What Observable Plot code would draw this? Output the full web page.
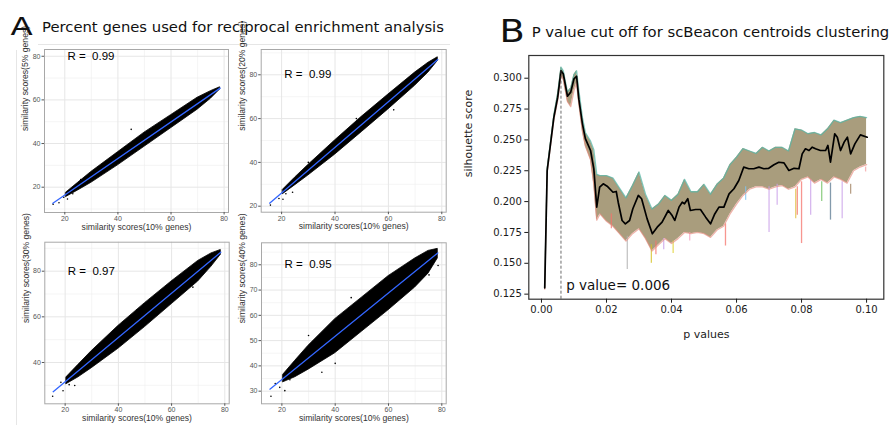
<!DOCTYPE html>
<html><head><meta charset="utf-8">
<script src="https://cdn.jsdelivr.net/npm/d3@7"></script>
<script src="https://cdn.jsdelivr.net/npm/@observablehq/plot@0.6"></script>
<style>
body{margin:0;background:#fff;width:893px;height:425px;overflow:hidden;position:relative;font-family:"DejaVu Sans",sans-serif}
.pos{position:absolute;line-height:0}
</style></head><body>
<script>
// ---------- Panel A data ----------
const xTicksA = [20, 40, 60, 80];
const xMinorA = [30, 50, 70];
const xTitleA = "similarity scores(10% genes)";
const yTitlesA = ["similarity scores(5% genes)", "similarity scores(20% genes)", "similarity scores(30% genes)", "similarity scores(40% genes)"];
const rLabels = ["R =  0.99", "R =  0.99", "R =  0.97", "R =  0.95"];
const yTicks5 = [20, 40, 60, 80], yMinor5 = [10, 30, 50, 70];
const yTicks20 = [20, 40, 60, 80], yMinor20 = [30, 50, 70, 90];
const yTicks30 = [40, 60, 80], yMinor30 = [30, 50, 70, 90];
const yTicks40 = [30, 40, 50, 60, 70, 80], yMinor40 = [35, 45, 55, 65, 75, 85];

// dense point cloud edges
const bandX = [20.5, 25, 30, 40, 50, 60, 70, 75, 78.5];
const lo5  = [15.5, 18.5, 22, 30, 38.5, 47, 55.5, 60.5, 64.8];
const hi5  = [17.5, 22, 27, 36, 45, 53, 61, 64, 65.8];
const lo20 = [25.5, 29.5, 34, 43.5, 53.8, 64.2, 75, 81, 86.3];
const hi20 = [27.5, 33, 38.8, 50, 60.8, 71, 81, 85.5, 88];
const lo30 = [30.5, 33.5, 37.5, 46, 55.5, 65.5, 75.5, 82, 87.2];
const hi30 = [33.5, 39, 45, 56, 66, 75.5, 84.5, 87.8, 89.3];
const lo40 = [33.5, 35.5, 38.5, 45, 53.5, 62, 71, 76.5, 82.5];
const hi40 = [36.5, 42, 48, 58.5, 67, 75.5, 82.5, 85.5, 86.3];

// sparse outlier points
const out5X  = [15.6, 17.8, 19.6, 21, 23, 26, 45, 66];
const out5Y  = [12.2, 12.9, 15.4, 14.6, 17, 23.5, 46.5, 55];
const out20X = [15.8, 19, 20.5, 21.6, 24.1, 30, 48, 62];
const out20Y = [20.5, 23.5, 23.2, 25.7, 26.4, 40, 60, 64];
const out30X = [15.3, 18.4, 19.2, 21.5, 23.6, 33, 47, 68];
const out30Y = [25.2, 31.3, 27.6, 30.3, 29.9, 48, 63, 73];
const out40X = [15.9, 17.5, 19.2, 21.1, 23, 35, 40, 75.2, 78.6, 30, 46];
const out40Y = [28.0, 33, 31.5, 30.2, 34.5, 37.5, 41, 76, 79.7, 52, 67];

// linear fit end points
const fitX = [15.5, 78.5];
const fit5 = [12.6, 65.4];
const fit20 = [21.4, 87.0];
const fit30 = [27.2, 88.3];
const fit40 = [30.8, 84.7];

// ---------- Panel B data ----------
const xTicksB = [0, 0.02, 0.04, 0.06, 0.08, 0.10];
const yTicksB = [0.125, 0.150, 0.175, 0.200, 0.225, 0.250, 0.275, 0.300];
const meanP = [0.001,0.00175,0.0038,0.005,0.006,0.0067,0.008,0.009,0.010,0.0108,0.0115,0.0126,0.0135,0.0151,0.0161,0.017,0.0179,0.019,0.0202,0.022,0.023,0.0236,0.0248,0.0258,0.0271,0.0281,0.0298,0.0308,0.0325,0.0341,0.0356,0.0371,0.039,0.0402,0.041,0.0423,0.0433,0.044,0.045,0.0458,0.0474,0.0489,0.0505,0.052,0.0533,0.0546,0.0561,0.0577,0.0592,0.0607,0.0622,0.0638,0.0653,0.0669,0.0684,0.0699,0.0715,0.073,0.0746,0.0761,0.0777,0.0792,0.0802,0.0812,0.0823,0.0833,0.0843,0.0858,0.0874,0.0881,0.0889,0.0902,0.091,0.092,0.0931,0.0941,0.0951,0.0964,0.0981,0.1002];
const meanV = [0.130,0.225,0.268,0.2846,0.306,0.3036,0.2854,0.2887,0.2995,0.3016,0.283,0.263,0.251,0.2414,0.2266,0.1955,0.2117,0.2144,0.2125,0.2076,0.2082,0.1995,0.1847,0.182,0.1847,0.1942,0.205,0.2023,0.186,0.1739,0.1793,0.1833,0.1928,0.1887,0.1847,0.1955,0.1995,0.1982,0.2023,0.1928,0.1936,0.1936,0.1874,0.182,0.19,0.1955,0.1955,0.2063,0.2104,0.2171,0.2279,0.2266,0.2266,0.2279,0.2266,0.227,0.2298,0.2319,0.2314,0.2252,0.227,0.2266,0.2387,0.2428,0.2414,0.2441,0.2428,0.2414,0.2414,0.2455,0.2319,0.2549,0.2522,0.2414,0.2482,0.2522,0.2387,0.2468,0.2541,0.2522];
const bandP  = [0.001,0.00175,0.0038,0.005,0.006,0.0067,0.008,0.009,0.010,0.0108,0.0115,0.0126,0.0135,0.0151,0.0161,0.017,0.018,0.020,0.022,0.024,0.026,0.028,0.030,0.032,0.034,0.036,0.038,0.040,0.042,0.044,0.046,0.048,0.050,0.052,0.054,0.056,0.058,0.060,0.062,0.064,0.066,0.068,0.070,0.072,0.074,0.076,0.078,0.080,0.082,0.084,0.086,0.088,0.090,0.092,0.094,0.096,0.098,0.100];
const bandLo = [0.129,0.224,0.266,0.282,0.302,0.299,0.281,0.277,0.290,0.296,0.279,0.257,0.245,0.234,0.214,0.185,0.190,0.184,0.180,0.174,0.168,0.174,0.178,0.170,0.160,0.165,0.170,0.166,0.170,0.175,0.174,0.175,0.174,0.171,0.177,0.180,0.190,0.198,0.205,0.210,0.212,0.212,0.210,0.212,0.213,0.210,0.212,0.218,0.220,0.215,0.218,0.215,0.220,0.218,0.215,0.225,0.228,0.230];
const bandHi = [0.131,0.227,0.270,0.288,0.309,0.306,0.289,0.292,0.303,0.306,0.290,0.268,0.256,0.249,0.242,0.222,0.221,0.221,0.219,0.211,0.203,0.213,0.224,0.206,0.194,0.198,0.205,0.201,0.206,0.218,0.208,0.208,0.214,0.206,0.214,0.219,0.230,0.236,0.243,0.241,0.239,0.244,0.241,0.244,0.244,0.241,0.259,0.258,0.255,0.256,0.254,0.259,0.266,0.264,0.266,0.268,0.269,0.268];
const spikeP      = [0.0215,0.0264,0.0338,0.0352,0.0376,0.0405,0.0456,0.0566,0.0628,0.0700,0.0725,0.0782,0.0787,0.0800,0.0828,0.0862,0.0889,0.0925,0.0951,0.0997];
const spikeTop    = [0.190,0.172,0.165,0.168,0.170,0.168,0.175,0.182,0.212,0.212,0.214,0.210,0.212,0.216,0.218,0.216,0.215,0.216,0.214,0.228];
const spikeBottom = [0.178,0.145,0.150,0.157,0.161,0.158,0.168,0.164,0.201,0.175,0.197,0.186,0.189,0.166,0.189,0.200,0.185,0.186,0.206,0.224];
const spikeColor  = ["#f4736b","#b0b0b0","#d4c020","#f4736b","#c9a0e8","#e0d030","#f4a0c0","#f4736b","#7fc4f0","#c9a0e8","#c9a0e8","#e0c040","#f4736b","#f4736b","#c9a0e8","#6fbf60","#5a7890","#c9a0e8","#a08060","#f4a0a0"];
const cutoffP = 0.006, cutoffPeak = 0.307;
const cutoffLabel = "p value= 0.006";

// ---------- layout ----------
const body = document.body;
function place(el, left, top, z) {
  const d = document.createElement("div");
  d.className = "pos"; d.style.left = left + "px"; d.style.top = top + "px";
  if (z) d.style.zIndex = z;
  d.appendChild(el); body.appendChild(d); return d;
}

// faint panel A border
const bt = document.createElement("div");
bt.className = "pos"; bt.style.cssText = "left:38px;top:44px;width:412px;height:0;border-top:1px solid #e6e6e6";
body.appendChild(bt);
const bl = document.createElement("div");
bl.className = "pos"; bl.style.cssText = "left:16px;top:50px;width:0;height:375px;border-left:1px solid #e6e6e6";
body.appendChild(bl);

function scatterPanel(c) {
  const band = bandX.map((x, i) => ({x, lo: c.lo[i], hi: c.hi[i]}));
  const pts = c.ox.map((x, i) => ({x, y: c.oy[i]}));
  const fit = fitX.map((x, i) => ({x, y: c.fit[i]}));
  return Plot.plot({
    width: c.w, height: c.h,
    marginLeft: c.ml, marginRight: c.mr, marginTop: c.mt, marginBottom: c.mb,
    x: {domain: [12.35, 81.65]},
    y: {domain: c.yd},
    style: {fontFamily: "Liberation Sans, Arial, sans-serif", background: "transparent", overflow: "visible"},
    marks: [
      Plot.gridX(xMinorA, {stroke: "#eeeeee", strokeWidth: 0.6, strokeOpacity: 1}),
      Plot.gridY(c.yMinor, {stroke: "#eeeeee", strokeWidth: 0.6, strokeOpacity: 1}),
      Plot.gridX(xTicksA, {stroke: "#e6e6e6", strokeWidth: 1, strokeOpacity: 1}),
      Plot.gridY(c.yTicks, {stroke: "#e6e6e6", strokeWidth: 1, strokeOpacity: 1}),
      Plot.areaY(band, {x: "x", y1: "lo", y2: "hi", fill: "black", stroke: "black", strokeWidth: 0.8, curve: "linear"}),
      Plot.dot(pts, {x: "x", y: "y", r: 0.8, fill: "black", stroke: null}),
      Plot.line(fit, {x: "x", y: "y", stroke: "#3366FF", strokeWidth: 1.3}),
      Plot.text([c.r], {x: 21, y: 80, text: d => d, textAnchor: "start", fontSize: 11.5, fill: "black"}),
      Plot.frame({stroke: "#a8a8a8", strokeWidth: 1}),
      Plot.axisX(xTicksA, {tickSize: 2.5, tickPadding: 1, fontSize: 7, color: "#555", label: null}),
      Plot.axisY(c.yTicks, {tickSize: 2.5, tickPadding: 1.5, fontSize: 7, color: "#555", label: null}),
      Plot.text([xTitleA], {frameAnchor: "bottom", dy: 17, text: d => d, fontSize: 8.6, fill: "#333"}),
      Plot.text([c.yt], {frameAnchor: "left", dx: -19, rotate: -90, text: d => d, fontSize: 8.6, fill: "#333"})
    ]
  });
}

place(scatterPanel({w: 232, h: 200, ml: 44, mr: 4, mt: 9, mb: 28, yd: [8.4, 83.1], yTicks: yTicks5, yMinor: yMinor5,
  lo: lo5, hi: hi5, ox: out5X, oy: out5Y, fit: fit5, r: rLabels[0], yt: yTitlesA[0]}), 0, 40);
place(scatterPanel({w: 234, h: 200, ml: 44.7, mr: 4.3, mt: 9, mb: 28.3, yd: [17.26, 91.55], yTicks: yTicks20, yMinor: yMinor20,
  lo: lo20, hi: hi20, ox: out20X, oy: out20Y, fit: fit20, r: rLabels[1], yt: yTitlesA[1]}), 216, 40);
place(scatterPanel({w: 232, h: 193, ml: 44.3, mr: 3.3, mt: 9.7, mb: 21.7, yd: [21.9, 92.7], yTicks: yTicks30, yMinor: yMinor30,
  lo: lo30, hi: hi30, ox: out30X, oy: out30Y, fit: fit30, r: rLabels[2], yt: yTitlesA[2]}), 0, 232);
place(scatterPanel({w: 234, h: 193, ml: 45, mr: 4.3, mt: 10.3, mb: 21.7, yd: [25.0, 88.7], yTicks: yTicks40, yMinor: yMinor40,
  lo: lo40, hi: hi40, ox: out40X, oy: out40Y, fit: fit40, r: rLabels[3], yt: yTitlesA[3]}), 216, 232);

// ---------- Panel B ----------
const meanData = meanP.map((p, i) => ({p, v: meanV[i]}));
const bandData = bandP.map((p, i) => ({p, lo: bandLo[i], hi: bandHi[i]}));
const spikeData = spikeP.map((p, i) => ({p, top: spikeTop[i], bottom: spikeBottom[i], color: spikeColor[i]}));
const yMinB = 0.1209;
const plotB = Plot.plot({
  width: 443, height: 305,
  marginLeft: 78.3, marginRight: 9.7, marginTop: 10, marginBottom: 51.3,
  x: {domain: [-0.0039, 0.1053]},
  y: {domain: [yMinB, 0.3184]},
  color: {type: "identity"},
  style: {fontFamily: "DejaVu Sans, sans-serif", background: "transparent", overflow: "visible"},
  marks: [
    Plot.areaY(bandData, {x: "p", y1: "lo", y2: "hi", fill: "#9a8c66", fillOpacity: 0.85, curve: "linear"}),
    Plot.ruleX(spikeData, {x: "p", y1: "top", y2: "bottom", stroke: "color", strokeOpacity: 0.75, strokeWidth: 1.3}),
    Plot.line(bandData, {x: "p", y: "hi", stroke: "#58b5a5", strokeOpacity: 0.75, strokeWidth: 1.3}),
    Plot.line(bandData, {x: "p", y: "lo", stroke: "#e58a7d", strokeOpacity: 0.65, strokeWidth: 1.3}),
    Plot.line(meanData, {x: "p", y: "v", stroke: "black", strokeWidth: 1.7}),
    Plot.ruleX([cutoffP], {x: d => d, y1: yMinB, y2: cutoffPeak, stroke: "#444", strokeWidth: 0.8, strokeDasharray: "3,2"}),
    Plot.text([cutoffLabel], {x: 0.0076, y: 0.1285, text: d => d, textAnchor: "start", lineAnchor: "bottom", fontSize: 13.5, fill: "#111"}),
    Plot.frame({stroke: "#333", strokeWidth: 1.2}),
    Plot.axisX(xTicksB, {tickFormat: d => d.toFixed(2), tickSize: 4, tickPadding: 3, fontSize: 10, color: "#1a1a1a", label: null}),
    Plot.axisY(yTicksB, {tickFormat: d => d.toFixed(3), tickSize: 4, tickPadding: 3, fontSize: 10, color: "#1a1a1a", label: null}),
    Plot.text(["p values"], {frameAnchor: "bottom", dy: 39, text: d => d, fontSize: 11, fill: "#222"}),
    Plot.text(["silhouette score"], {frameAnchor: "left", dx: -60.3, rotate: -90, text: d => d, fontSize: 11, fill: "#222"})
  ]
});
place(plotB, 450, 45);

// titles (on top)
const NS = "http://www.w3.org/2000/svg";
const tsvg = document.createElementNS(NS, "svg");
tsvg.setAttribute("width", 893); tsvg.setAttribute("height", 48);
function ttext(x, y, s, size, extra) {
  const t = document.createElementNS(NS, "text");
  t.setAttribute("x", x); t.setAttribute("y", y); t.setAttribute("font-size", size);
  t.setAttribute("font-family", "DejaVu Sans, sans-serif"); t.setAttribute("fill", "#111");
  if (extra) t.setAttribute("transform", extra);
  t.textContent = s; tsvg.appendChild(t);
}
ttext(0, 0, "A", 25, "translate(10.5,35) scale(1.3,1)");
ttext(42, 32.3, "Percent genes used for reciprocal enrichment analysis", 14.8);
ttext(0, 0, "B", 32, "translate(499.5,41.7) scale(1.15,1)");
ttext(531.7, 36.7, "P value cut off for scBeacon centroids clustering", 14.8);
place(tsvg, 0, 0, 10);
</script>
</body></html>
